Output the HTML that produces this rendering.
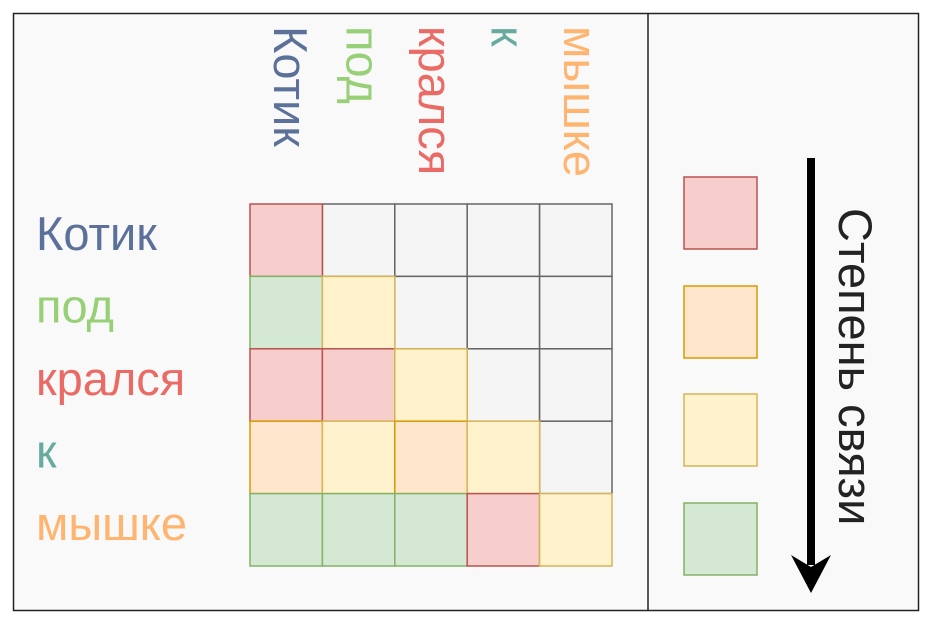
<!DOCTYPE html>
<html><head><meta charset="utf-8"><style>
html,body{margin:0;padding:0;background:#fff;width:938px;height:624px;overflow:hidden}
text{font-family:"Liberation Sans",Arial,sans-serif}
</style></head><body>
<svg id="chart" width="938" height="624" xmlns="http://www.w3.org/2000/svg">
<rect x="13.5" y="13.5" width="905" height="597" fill="#f9f9f9" stroke="#222" stroke-width="1.5"/>
<line x1="648" y1="13" x2="648" y2="611" stroke="#222" stroke-width="1.5"/>
<g id="cells"></g>
<g id="labels"></g>
<g id="legend"></g>
<line x1="811" y1="158" x2="811" y2="565" stroke="#000" stroke-width="8"/>
<polygon points="791,555 811,593 831,555 811,567" fill="#000"/>
<text transform="translate(839,208) rotate(90)" font-size="47" fill="#222">Степень связи</text>
</svg>
<script>
const words = ["Котик","под","крался","к","мышке"];
const wordColors = ["#5b7199","#97d077","#ea6b66","#67ab9f","#ffb570"];
// level per cell: 0 red (strongest), 1 orange, 2 yellow, 3 green, -1 empty
const matrix = [
  [0,-1,-1,-1,-1],
  [3, 2,-1,-1,-1],
  [0, 0, 2,-1,-1],
  [1, 2, 1, 2,-1],
  [3, 3, 3, 0, 2]
];
const levelFills = ["#f8cecc","#ffe6cc","#fff2cc","#d5e8d4"];
const levelStrokes = ["#b85450","#d79b00","#d6b656","#82b366"];

const NS = "http://www.w3.org/2000/svg";
const x0 = 250, y0 = 204, cs = 72.4;
const xPos = i => x0 + i*cs;
const yPos = j => y0 + j*cs;
const cells = document.getElementById('cells');
const order = [];
matrix.forEach((row,r)=>row.forEach((v,c)=>order.push([r,c,v])));
order.sort((a,b)=>(a[2]===-1?0:1)-(b[2]===-1?0:1));
order.forEach(([r,c,v])=>{
  const el = document.createElementNS(NS,'rect');
  
  
  el.setAttribute('x', xPos(c)); el.setAttribute('y', yPos(r));
  el.setAttribute('width', cs); el.setAttribute('height', cs);
  el.setAttribute('fill', v<0 ? '#f5f5f5' : levelFills[v]);
  el.setAttribute('stroke', v<0 ? '#666666' : levelStrokes[v]);
  el.setAttribute('stroke-width', 1.5);
  cells.appendChild(el);
});
const labels = document.getElementById('labels');
words.forEach((w,i)=>{
  const t = document.createElementNS(NS,'text');
  
  
  t.setAttribute('x', 36); t.setAttribute('y', yPos(i)+cs/2+10);
  t.setAttribute('font-size', 47); t.setAttribute('fill', wordColors[i]);
  t.textContent = w; labels.appendChild(t);
  const c = document.createElementNS(NS,'text');
  
  
  c.setAttribute('transform', 'translate(' + (xPos(i)+cs/2-12) + ',26) rotate(90)');
  c.setAttribute('font-size', 47); c.setAttribute('fill', wordColors[i]);
  c.textContent = w; labels.appendChild(c);
});
const legend = document.getElementById('legend');
const legendY = [177,286,394,503];
levelFills.forEach((f,i)=>{
  const el = document.createElementNS(NS,'rect');
  
  
  el.setAttribute('x', 684); el.setAttribute('y', legendY[i]);
  el.setAttribute('width', 73); el.setAttribute('height', 72);
  el.setAttribute('fill', f); el.setAttribute('stroke', levelStrokes[i]);
  el.setAttribute('stroke-width', 1.5);
  legend.appendChild(el);
});
</script>
</body></html>
